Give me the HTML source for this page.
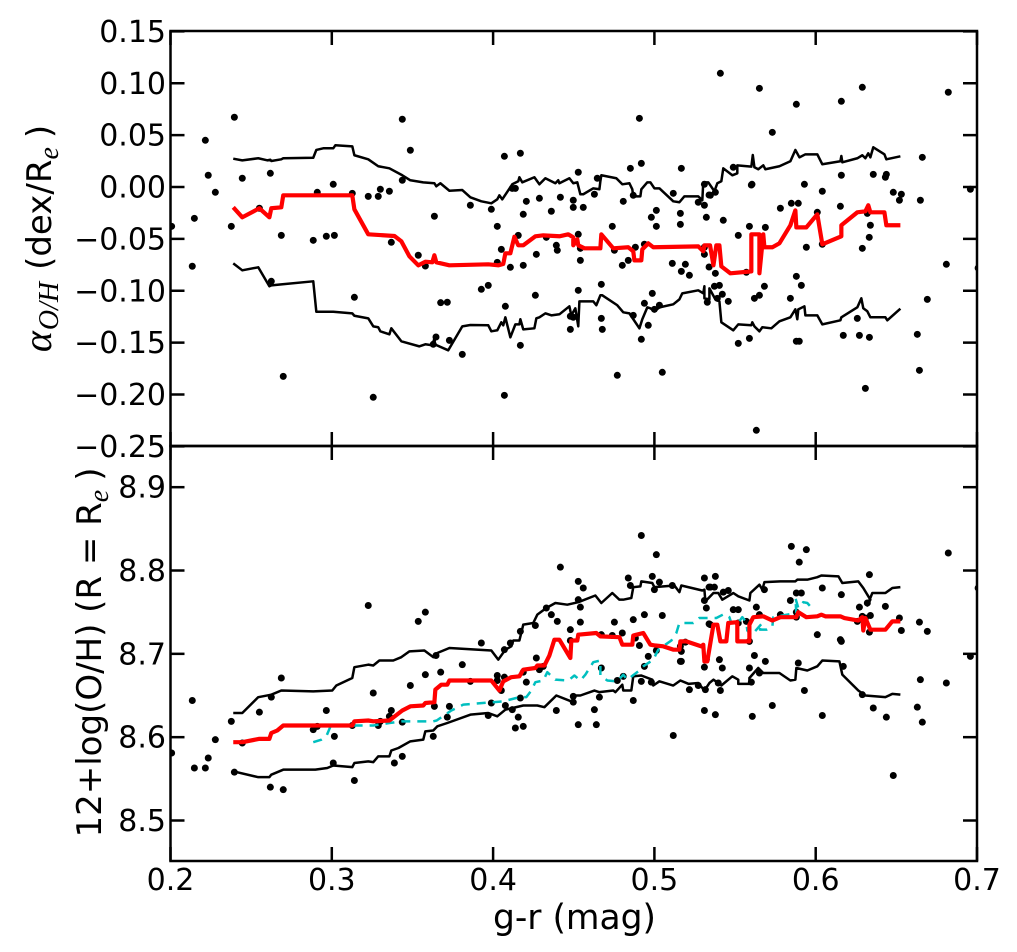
<!DOCTYPE html>
<html>
<head>
<meta charset="utf-8">
<title>Oxygen abundance gradient vs colour</title>
<style>
html,body{margin:0;padding:0;background:#fff;}
svg{display:block;}
text{font-family:"DejaVu Sans","Liberation Sans",sans-serif;fill:#000;}
.math{font-family:"Liberation Serif","DejaVu Serif",serif;font-style:italic;}
</style>
</head>
<body>
<svg id="chart" xmlns="http://www.w3.org/2000/svg" width="1017" height="952" viewBox="0 0 1017 952">
<defs>
<clipPath id="clip-top"><rect x="170.5" y="31" width="806.5" height="415"/></clipPath>
<clipPath id="clip-bottom"><rect x="170.5" y="446" width="806.5" height="415"/></clipPath>
</defs>
<rect x="0" y="0" width="1017" height="952" fill="#fff"/>
<g id="top-panel"></g>
<g id="bottom-panel"></g>
<text x="574.5" y="929" font-size="34.5" text-anchor="middle">g-r (mag)</text>
<text transform="translate(51,238.5) rotate(-90)" font-size="34" text-anchor="middle"><tspan class="math" font-size="40">α</tspan><tspan class="math" font-size="28" dy="7" dx="1">O/H</tspan><tspan dy="-7" dx="12">(dex/R</tspan><tspan class="math" font-size="28" dy="7">e</tspan><tspan dy="-7" dx="9">)</tspan></text>
<text transform="translate(101,652.5) rotate(-90)" font-size="34" text-anchor="middle">12+log(O/H) (R = R<tspan class="math" font-size="28" dy="7">e</tspan><tspan dy="-7" dx="9">)</tspan></text>
</svg>
<script>
const xTickValues = [0.2, 0.3, 0.4, 0.5, 0.6, 0.7];
const xTickLabels = ["0.2", "0.3", "0.4", "0.5", "0.6", "0.7"];
const topTickValues = [0.15, 0.10, 0.05, 0, -0.05, -0.10, -0.15, -0.20, -0.25];
const topTickLabels = ["0.15", "0.10", "0.05", "0.00", "−0.05", "−0.10", "−0.15", "−0.20", "−0.25"];
const bottomTickValues = [8.9, 8.8, 8.7, 8.6, 8.5];
const bottomTickLabels = ["8.9", "8.8", "8.7", "8.6", "8.5"];

const topPointsX = [.2007,.2148,.2135,.2216,.2234,.2278,.2377,.2396,.2445,.2551,.2625,.2619,.2687,.2699,.2910,.2885,.2966,.3016,.3009,.3127,.3140,.3226,.3257,.3288,.3301,.3357,.3369,.3437,.3487,.3437,.3536,.3580,.3636,.3675,.3646,.3629,.3729,.3809,.3859,.3927,.3970,.3716,.3989,.4026,.4026,.4051,.4070,.4169,.4076,.4070,.4107,.4119,.4138,.4156,.4187,.4206,.4187,.4169,.4262,.4268,.4287,.4330,.4361,.4392,.4398,.4417,.4479,.4497,.4479,.4497,.4497,.4528,.4528,.4528,.4541,.4541,.4559,.4628,.4646,.4671,.4671,.4677,.4739,.4752,.4770,.4801,.4807,.4838,.4851,.4869,.4869,.4882,.4907,.4919,.4919,.4938,.4938,.4962,.4981,.4987,.5000,.5012,.5012,.5031,.5049,.5111,.5117,.5161,.5161,.5167,.5167,.5192,.5217,.5272,.5310,.5310,.5310,.5310,.5322,.5328,.5339,.5339,.5409,.5651,.5880,.5731,.6159,.6289,.6822,.6661,.5489,.5601,.5605,.5930,.6041,.6159,.6357,.6432,.6438,.6481,.6531,.6519,.6649,.6959,.5378,.5347,.5427,.5781,.5849,.5892,.6010,.6153,.6320,.6339,.6332,.6289,.5589,.5520,.5688,.6041,.5942,.6810,.7007,.5570,.5378,.5372,.5403,.5880,.5911,.5682,.5421,.5458,.5390,.5620,.5651,.5843,.6692,.6258,.6171,.6271,.6333,.6630,.5520,.5589,.5880,.5898,.6643,.6308,.5632];
const topPointsY = [-.0379,-.0302,-.0764,.0450,.0113,-.0051,-.0379,.0672,.0084,-.0205,-.0909,.0132,-.0466,-.1825,-.0051,-.0514,-.0475,-.0466,.0026,-.0061,-.1063,-.0090,-.2027,-.0090,-.0022,-.0041,-.0533,.0653,.0354,.0065,-.0658,-.0762,-.0282,-.1115,-.1446,-.1516,-.1478,-.1613,-.0176,-.0986,-.0948,-.1111,-.0215,-.0379,-.0726,-.0601,.0296,.0325,-.1150,-.2008,-.0774,-.0013,-.0013,-.0466,-.0263,-.0138,-.0755,-.1526,-.1044,-.0649,-.0109,-.0485,-.0234,-.0562,-.0610,-.0099,-.1246,-.1256,-.1372,-.0128,-.0196,.0142,-.0456,-.0996,-.0591,-.0707,-.0196,-.0070,.0084,-.0938,-.1266,-.1372,-.0379,-.0610,-.1815,-.0755,-.0138,-.0707,.0180,-.0080,-.1237,-.0581,.0662,.0228,-.1468,-.0552,-.1121,-.1333,-.0292,-.1025,-.1179,-.0225,-.0379,-.1140,-.1786,-.0736,-.0061,-.0254,-.0360,.0180,-.0813,-.0745,-.0851,-.0147,.0026,-.0176,-.0581,-.0649,-.0292,-.1111,-.0077,-.0771,.1096,.0951,.0797,.0527,.0826,.0961,.0913,.0286,.0190,.0019,.0026,.0026,-.0041,.0113,.0122,.0094,.0122,-.0051,-.0070,-.0128,-.0128,-.0022,-.0051,-.0080,-.0321,-.0205,-.0157,-.0157,-.0244,-.0186,-.0254,-.0369,-.0485,-.0591,-.0379,-.0466,-.0389,-.0552,-.0581,-.0745,-.0781,-.0822,-.0832,-.0957,-.0948,-.0861,-.0948,-.0957,-.1034,-.1102,-.1073,-.1073,-.1044,-.1073,-.1083,-.1266,-.1430,-.1430,-.1449,-.1420,-.1507,-.1459,-.1487,-.1487,-.1767,-.1941,-.2345];

const bottomPointsX = [.2007,.2148,.2135,.2216,.2234,.2278,.2377,.2396,.2445,.2551,.2619,.2699,.2625,.2687,.2885,.2910,.2966,.3016,.3009,.3127,.3140,.3226,.3257,.3288,.3301,.3357,.3369,.3388,.3437,.3437,.3487,.3536,.3580,.3580,.3636,.3629,.3646,.3675,.3716,.3729,.3809,.3859,.3927,.3970,.3989,.4026,.4026,.4051,.4070,.4070,.4076,.4107,.4119,.4138,.4156,.4187,.4169,.4169,.4187,.4206,.4262,.4268,.4287,.4311,.4330,.4361,.4392,.4398,.4417,.4479,.4479,.4497,.4497,.4528,.4528,.4528,.4541,.4559,.4541,.4628,.4640,.4659,.4671,.4671,.4739,.4752,.4770,.4801,.4807,.4838,.4851,.4869,.4869,.4882,.4907,.4919,.4919,.4938,.4938,.4962,.4981,.4987,.5000,.5012,.5012,.5031,.5049,.5117,.5111,.5161,.5167,.5161,.5167,.5192,.5217,.5272,.5310,.5310,.5310,.5310,.5322,.5322,.5339,.5339,.5316,.5378,.5347,.5372,.5427,.5458,.5347,.5489,.5520,.5520,.5570,.5589,.5632,.5651,.5682,.5781,.5843,.5849,.5942,.5898,.5880,.5911,.5880,.5880,.6041,.6010,.6159,.6153,.6159,.6333,.6271,.6320,.6432,.6258,.6289,.6308,.6339,.6333,.6519,.6531,.6643,.6692,.6822,.7007,.5403,.5421,.5396,.5409,.5378,.5589,.5601,.5620,.5651,.5688,.5607,.5731,.5892,.5930,.6041,.6171,.6289,.6357,.6438,.6481,.6630,.6661,.6649,.6810,.6959];
const bottomPointsY = [8.581,8.563,8.644,8.563,8.575,8.597,8.619,8.558,8.593,8.630,8.540,8.537,8.648,8.671,8.609,8.613,8.632,8.601,8.569,8.614,8.548,8.758,8.653,8.614,8.619,8.625,8.632,8.569,8.577,8.618,8.662,8.739,8.750,8.675,8.637,8.601,8.698,8.678,8.624,8.637,8.687,8.667,8.713,8.626,8.641,8.674,8.668,8.656,8.672,8.705,8.638,8.713,8.633,8.611,8.624,8.613,8.727,8.647,8.678,8.666,8.734,8.695,8.681,8.685,8.755,8.747,8.632,8.739,8.804,8.729,8.716,8.649,8.642,8.787,8.765,8.615,8.756,8.779,8.738,8.633,8.615,8.648,8.723,8.683,8.722,8.738,8.668,8.725,8.673,8.791,8.782,8.741,8.644,8.719,8.710,8.842,8.667,8.747,8.685,8.697,8.666,8.793,8.777,8.819,8.704,8.786,8.746,8.602,8.782,8.709,8.703,8.691,8.691,8.714,8.657,8.662,8.791,8.764,8.684,8.632,8.755,8.693,8.780,8.736,8.657,8.793,8.780,8.780,8.774,8.776,8.735,8.753,8.753,8.737,8.739,8.715,8.756,8.747,8.777,8.747,8.764,8.829,8.825,8.810,8.773,8.773,8.750,8.744,8.779,8.723,8.771,8.717,8.715,8.795,8.756,8.761,8.757,8.739,8.745,8.743,8.746,8.726,8.743,8.728,8.738,8.727,8.821,8.779,8.693,8.683,8.665,8.656,8.627,8.683,8.666,8.698,8.677,8.691,8.625,8.638,8.689,8.656,8.626,8.685,8.651,8.635,8.624,8.554,8.636,8.618,8.669,8.665,8.697];

const topUpperX = [.2389,.2445,.2544,.2600,.2619,.2625,.2687,.2699,.2885,.2904,.2947,.3009,.3022,.3127,.3140,.3226,.3288,.3357,.3437,.3487,.3567,.3636,.3648,.3673,.3729,.3809,.3859,.3927,.3989,.4026,.4039,.4057,.4119,.4156,.4163,.4181,.4256,.4287,.4324,.4386,.4404,.4411,.4473,.4497,.4522,.4541,.4559,.4621,.4659,.4665,.4671,.4764,.4801,.4845,.4863,.4869,.4913,.4919,.4956,.4975,.5000,.5031,.5117,.5155,.5186,.5272,.5297,.5303,.5334,.5372,.5390,.5415,.5427,.5483,.5514,.5514,.5601,.5610,.5620,.5644,.5675,.5688,.5775,.5843,.5874,.5899,.5936,.6010,.6041,.6153,.6159,.6165,.6258,.6289,.6308,.6326,.6339,.6357,.6426,.6438,.6525];
const topUpperY = [.0273,.0257,.0277,.0257,.0263,.0251,.0267,.0277,.0282,.0357,.0373,.0373,.0402,.0392,.0306,.0267,.0200,.0180,.0113,.0065,.0045,.0036,.0007,.0036,-.0036,-.0029,-.0099,-.0138,-.0157,-.0119,-.0080,-.0119,.0026,.0055,.0094,.0045,.0094,.0026,.0084,.0036,.0065,.0036,.0084,.0036,.0045,-.0070,-.0070,-.0013,-.0022,.0055,.0113,.0084,.0026,.0036,-.0022,-.0090,-.0090,-.0022,.0045,.0045,-.0013,-.0013,-.0138,-.0147,-.0090,-.0090,-.0128,.0045,.0045,-.0041,.0036,.0055,.0180,.0113,.0132,.0209,.0196,.0308,.0190,.0171,.0209,.0171,.0200,.0248,.0357,.0286,.0315,.0315,.0219,.0248,.0299,.0238,.0277,.0306,.0277,.0325,.0286,.0383,.0315,.0267,.0296];

const topLowerX = [.2389,.2445,.2544,.2613,.2625,.2687,.2885,.2904,.3009,.3127,.3140,.3226,.3257,.3288,.3301,.3357,.3369,.3431,.3543,.3580,.3623,.3642,.3636,.3722,.3809,.3859,.3970,.3989,.4026,.4051,.4063,.4076,.4107,.4138,.4163,.4169,.4187,.4256,.4268,.4287,.4324,.4361,.4411,.4473,.4485,.4510,.4528,.4535,.4621,.4640,.4665,.4677,.4770,.4807,.4845,.4907,.4925,.4956,.4975,.5000,.5031,.5117,.5155,.5173,.5272,.5303,.5310,.5310,.5341,.5341,.5378,.5403,.5415,.5489,.5520,.5601,.5607,.5620,.5651,.5669,.5725,.5775,.5843,.5874,.5886,.5892,.5930,.5936,.6010,.6041,.6153,.6159,.6258,.6283,.6295,.6320,.6339,.6432,.6444,.6525];
const topLowerY = [-.0736,-.0803,-.0774,-.0957,-.0948,-.0938,-.0909,-.1202,-.1202,-.1218,-.1241,-.1266,-.1343,-.1352,-.1391,-.1420,-.1362,-.1487,-.1536,-.1516,-.1526,-.1430,-.1516,-.1574,-.1343,-.1330,-.1333,-.1391,-.1381,-.1304,-.1333,-.1256,-.1449,-.1324,-.1324,-.1275,-.1372,-.1362,-.1266,-.1256,-.1218,-.1237,-.1227,-.1150,-.1237,-.1169,-.1343,-.1102,-.1102,-.1140,-.1044,-.1044,-.1140,-.1208,-.1218,-.1362,-.1275,-.1160,-.1169,-.1198,-.1160,-.1131,-.1083,-.1025,-.0996,-.1025,-.0957,-.1073,-.1083,-.0977,-.1083,-.1102,-.1304,-.1381,-.1324,-.1333,-.1304,-.1343,-.1391,-.1352,-.1362,-.1295,-.1256,-.1179,-.1275,-.1179,-.1150,-.1237,-.1237,-.1324,-.1285,-.1256,-.1160,-.1073,-.1169,-.1198,-.1256,-.1256,-.1285,-.1173];

const topMedianX = [.2389,.2445,.2551,.2613,.2625,.2687,.2699,.3127,.3140,.3226,.3388,.3431,.3481,.3536,.3580,.3623,.3636,.3648,.3729,.3970,.4032,.4063,.4076,.4107,.4132,.4156,.4187,.4262,.4311,.4411,.4466,.4497,.4497,.4522,.4528,.4566,.4665,.4671,.4745,.4838,.4869,.4876,.4919,.4925,.4962,.4993,.5272,.5303,.5310,.5345,.5366,.5384,.5403,.5415,.5471,.5601,.5601,.5651,.5651,.5675,.5682,.5731,.5775,.5843,.5874,.5880,.5942,.6010,.6041,.6159,.6159,.6258,.6308,.6326,.6339,.6426,.6438,.6525];
const topMedianY = [-.0196,-.0292,-.0205,-.0292,-.0205,-.0196,-.0080,-.0080,-.0215,-.0456,-.0472,-.0523,-.0668,-.0755,-.0720,-.0726,-.0658,-.0726,-.0755,-.0745,-.0755,-.0742,-.0639,-.0639,-.0479,-.0562,-.0562,-.0475,-.0466,-.0475,-.0456,-.0485,-.0562,-.0504,-.0562,-.0591,-.0591,-.0456,-.0591,-.0581,-.0620,-.0707,-.0707,-.0601,-.0543,-.0581,-.0572,-.0620,-.0562,-.0562,-.0755,-.0562,-.0562,-.0765,-.0832,-.0813,-.0456,-.0456,-.0832,-.0456,-.0581,-.0581,-.0543,-.0369,-.0225,-.0389,-.0389,-.0263,-.0552,-.0475,-.0369,-.0244,-.0234,-.0176,-.0244,-.0244,-.0369,-.0369];

const bottomUpperX = [.2389,.2445,.2544,.2625,.2687,.2885,.3003,.3028,.3127,.3140,.3226,.3257,.3295,.3381,.3431,.3481,.3574,.3629,.3654,.3729,.3989,.4032,.4076,.4113,.4125,.4163,.4187,.4249,.4274,.4330,.4386,.4460,.4528,.4634,.4671,.4739,.4783,.4807,.4857,.4869,.4913,.4919,.4987,.5000,.5124,.5155,.5167,.5297,.5310,.5316,.5366,.5396,.5421,.5489,.5520,.5589,.5595,.5651,.5669,.5682,.5781,.5874,.5886,.5948,.6010,.6035,.6141,.6165,.6264,.6295,.6339,.6320,.6351,.6432,.6475,.6525];
const bottomUpperY = [8.629,8.629,8.648,8.651,8.656,8.655,8.656,8.662,8.671,8.684,8.687,8.686,8.692,8.692,8.696,8.703,8.704,8.696,8.701,8.707,8.704,8.693,8.705,8.709,8.716,8.716,8.735,8.737,8.747,8.755,8.761,8.759,8.762,8.770,8.761,8.773,8.765,8.765,8.767,8.780,8.781,8.787,8.785,8.780,8.782,8.774,8.782,8.776,8.777,8.763,8.773,8.773,8.765,8.773,8.769,8.764,8.773,8.783,8.777,8.786,8.787,8.787,8.789,8.789,8.792,8.794,8.793,8.785,8.787,8.779,8.765,8.758,8.773,8.773,8.779,8.780];

const bottomLowerX = [.2389,.2544,.2613,.2625,.2699,.2898,.2972,.3009,.3127,.3140,.3226,.3257,.3288,.3357,.3369,.3413,.3487,.3567,.3580,.3629,.3654,.3716,.3859,.3970,.4026,.4076,.4187,.4274,.4318,.4392,.4497,.4504,.4541,.4628,.4659,.4745,.4758,.4801,.4807,.4857,.4869,.4919,.4987,.4993,.5031,.5117,.5161,.5211,.5272,.5310,.5341,.5366,.5415,.5483,.5520,.5520,.5589,.5589,.5644,.5675,.5775,.5843,.5874,.5880,.5948,.6010,.6041,.6147,.6165,.6264,.6308,.6432,.6475,.6525];
const bottomLowerY = [8.559,8.552,8.552,8.555,8.561,8.561,8.563,8.566,8.564,8.569,8.571,8.570,8.577,8.577,8.584,8.587,8.595,8.597,8.607,8.608,8.613,8.617,8.627,8.629,8.625,8.633,8.638,8.638,8.636,8.650,8.642,8.650,8.650,8.656,8.654,8.656,8.654,8.663,8.656,8.656,8.673,8.674,8.669,8.662,8.667,8.662,8.668,8.664,8.665,8.656,8.665,8.669,8.662,8.673,8.669,8.664,8.664,8.671,8.683,8.677,8.677,8.668,8.669,8.683,8.680,8.685,8.692,8.691,8.675,8.656,8.650,8.648,8.652,8.651];

const bottomMedianX = [.2389,.2445,.2551,.2613,.2625,.2662,.2699,.3127,.3140,.3226,.3257,.3357,.3437,.3487,.3567,.3580,.3636,.3642,.3679,.3716,.3729,.3989,.4039,.4063,.4113,.4163,.4187,.4262,.4274,.4318,.4349,.4380,.4411,.4479,.4485,.4522,.4528,.4640,.4665,.4783,.4801,.4863,.4869,.4931,.4975,.5006,.5055,.5117,.5155,.5161,.5198,.5291,.5303,.5310,.5328,.5366,.5390,.5409,.5446,.5458,.5514,.5514,.5589,.5589,.5613,.5675,.5731,.5781,.5880,.5892,.5942,.6010,.6035,.6060,.6153,.6178,.6264,.6289,.6295,.6308,.6339,.6432,.6475,.6525];
const bottomMedianY = [8.594,8.594,8.598,8.598,8.605,8.608,8.614,8.614,8.619,8.620,8.619,8.620,8.632,8.637,8.638,8.641,8.642,8.657,8.663,8.663,8.668,8.668,8.656,8.667,8.672,8.673,8.681,8.683,8.686,8.686,8.698,8.717,8.717,8.695,8.716,8.716,8.723,8.725,8.721,8.720,8.711,8.711,8.722,8.725,8.711,8.710,8.709,8.705,8.705,8.715,8.715,8.709,8.711,8.691,8.691,8.735,8.735,8.715,8.715,8.737,8.738,8.715,8.715,8.735,8.744,8.745,8.740,8.744,8.744,8.750,8.744,8.745,8.747,8.745,8.745,8.743,8.740,8.744,8.728,8.743,8.729,8.729,8.739,8.739];

const bottomComparisonX = [.2885,.2935,.2966,.2990,.3040,.3257,.3357,.3437,.3629,.3650,.3741,.3815,.4063,.4163,.4206,.4237,.4262,.4311,.4336,.4386,.4466,.4504,.4541,.4572,.4621,.4665,.4665,.4708,.4770,.4807,.4832,.4900,.4931,.4993,.5024,.5105,.5136,.5155,.5241,.5278,.5384,.5434,.5465,.5477,.5518,.5545,.5570,.5576,.5601,.5669,.5655,.5696,.5731,.5737,.5880,.5874,.5892,.5923,.5948,.5985];
const bottomComparisonY = [8.594,8.597,8.601,8.612,8.614,8.614,8.617,8.619,8.619,8.620,8.632,8.639,8.643,8.648,8.648,8.656,8.666,8.668,8.678,8.669,8.668,8.674,8.668,8.675,8.690,8.692,8.674,8.668,8.667,8.675,8.669,8.679,8.685,8.693,8.705,8.716,8.725,8.737,8.737,8.743,8.743,8.748,8.744,8.737,8.737,8.744,8.738,8.728,8.722,8.737,8.729,8.729,8.732,8.744,8.749,8.767,8.755,8.762,8.761,8.753];

const SVG_NS = "http://www.w3.org/2000/svg";
const plotLeft = 170.5, plotRight = 977, plotTop = 31, plotMid = 446, plotBottom = 861;

function xScale(v) { return plotLeft + (v - 0.2) * 1613; }
function yTop(v) { return 187 - v * 1037.5; }
function yBottom(v) { return 820.5 - (v - 8.5) * 833.3; }

function make(parent, tag, props) {
  const el = document.createElementNS(SVG_NS, tag);
  for (const k in props) el.setAttribute(k, props[k]);
  parent.appendChild(el);
  return el;
}

function drawPoints(parent, xs, ys, yFn, clip, label) {
  const g = make(parent, "g", { "clip-path": "url(#" + clip + ")" });
  
  
  for (let i = 0; i < xs.length; i++) {
    const c = make(g, "circle", { cx: xScale(xs[i]).toFixed(2), cy: yFn(ys[i]).toFixed(2), r: 3.5, fill: "#000" });
    
    
  }
}

function drawLine(parent, xs, ys, yFn, clip, stroke, width, dash, name) {
  let pts = "";
  for (let i = 0; i < xs.length; i++) pts += xScale(xs[i]).toFixed(2) + "," + yFn(ys[i]).toFixed(2) + " ";
  const props = { points: pts.trim(), fill: "none", stroke: stroke, "stroke-width": width, "stroke-linejoin": "round", "clip-path": "url(#" + clip + ")" };
  if (dash) props["stroke-dasharray"] = dash;
  const line = make(parent, "polyline", props);
  
  
}

function drawFrame(parent, top, bottom, tickVals, tickLabels, yFn, axisName) {
  const g = make(parent, "g", {});
  
  
  const frame = make(g, "rect", { x: plotLeft, y: top, width: plotRight - plotLeft, height: bottom - top, fill: "none", stroke: "#000", "stroke-width": 2.5 });
  
  
  for (let i = 0; i < tickVals.length; i++) {
    const y = yFn(tickVals[i]);
    const l = make(g, "line", { x1: plotLeft, x2: plotLeft + 14, y1: y, y2: y, stroke: "#000", "stroke-width": 2.5 });
    
    
    const r = make(g, "line", { x1: plotRight - 14, x2: plotRight, y1: y, y2: y, stroke: "#000", "stroke-width": 2.5 });
    
    
    const t = make(g, "text", { x: 166, y: y + 10.5, "font-size": 30, "text-anchor": "end" });
    t.textContent = tickLabels[i];
    
    
  }
  for (let i = 0; i < xTickValues.length; i++) {
    const x = xScale(xTickValues[i]);
    const b = make(g, "line", { x1: x, x2: x, y1: bottom - 14, y2: bottom, stroke: "#000", "stroke-width": 2.5 });
    
    
    const u = make(g, "line", { x1: x, x2: x, y1: top, y2: top + 14, stroke: "#000", "stroke-width": 2.5 });
    
    
  }
}

const topPanel = document.getElementById("top-panel");
const bottomPanel = document.getElementById("bottom-panel");

drawPoints(topPanel, topPointsX, topPointsY, yTop, "clip-top", "gradient");
drawLine(topPanel, topUpperX, topUpperY, yTop, "clip-top", "#000", 2.5, null, "gradient-upper-percentile-line");
drawLine(topPanel, topLowerX, topLowerY, yTop, "clip-top", "#000", 2.5, null, "gradient-lower-percentile-line");
drawLine(topPanel, topMedianX, topMedianY, yTop, "clip-top", "#ff0000", 4.2, null, "gradient-median-line");
drawFrame(topPanel, plotTop, plotMid, topTickValues, topTickLabels, yTop, "gradient");

drawPoints(bottomPanel, bottomPointsX, bottomPointsY, yBottom, "clip-bottom", "abundance");
drawLine(bottomPanel, bottomUpperX, bottomUpperY, yBottom, "clip-bottom", "#000", 2.5, null, "abundance-upper-percentile-line");
drawLine(bottomPanel, bottomLowerX, bottomLowerY, yBottom, "clip-bottom", "#000", 2.5, null, "abundance-lower-percentile-line");
drawLine(bottomPanel, bottomComparisonX, bottomComparisonY, yBottom, "clip-bottom", "#00bfbf", 2.5, "9 7", "abundance-comparison-dashed-line");
drawLine(bottomPanel, bottomMedianX, bottomMedianY, yBottom, "clip-bottom", "#ff0000", 4.2, null, "abundance-median-line");
drawFrame(bottomPanel, plotMid, plotBottom, bottomTickValues, bottomTickLabels, yBottom, "abundance");

for (let i = 0; i < xTickValues.length; i++) {
  const t = make(bottomPanel, "text", { x: xScale(xTickValues[i]), y: 890, "font-size": 30, "text-anchor": "middle" });
  t.textContent = xTickLabels[i];
  
  
}
</script>
</body>
</html>
